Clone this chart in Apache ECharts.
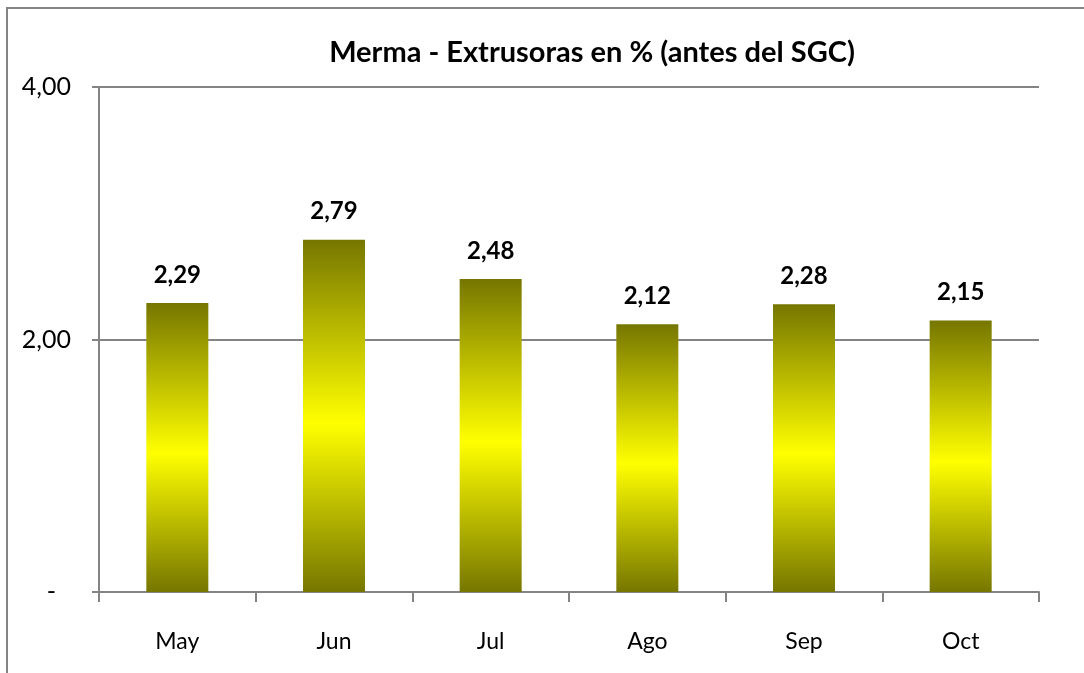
<!DOCTYPE html>
<html>
<head>
<meta charset="utf-8">
<script src="https://cdn.jsdelivr.net/npm/echarts@6/dist/echarts.min.js"></script>
<style>
html,body{margin:0;padding:0;background:#fff;}
#c{width:1084px;height:673px;}
</style>
</head>
<body>
<div id="c"></div>
<script>
const categories = ['May', 'Jun', 'Jul', 'Ago', 'Sep', 'Oct'];
const values = [2.29, 2.79, 2.48, 2.12, 2.28, 2.15];
const titleText = 'Merma - Extrusoras en % (antes del SGC)';
const yMin = 0, yMax = 4, yStep = 2;

const FONT = 'Lato, "Open Sans", sans-serif';
const fmt = v => v.toFixed(2).replace('.', ',');

const chart = echarts.init(document.getElementById('c'), null, {renderer: 'canvas'});
chart.setOption({
  animation: false,
  backgroundColor: '#ffffff',
  title: {
    text: titleText,
    left: 587, top: 33, textAlign: 'center',
    textStyle: {fontFamily: FONT, fontWeight: 'bold', fontSize: 29, color: '#000'}
  },
  graphic: [{
    type: 'rect', silent: true, z: -1,
    shape: {x: 7, y: 8, width: 1200, height: 800},
    style: {fill: 'none', stroke: '#848484', lineWidth: 2}
  }],
  grid: {left: 99, right: 45, top: 87, bottom: 81, containLabel: false},
  xAxis: {
    type: 'category',
    data: categories,
    axisLine: {show: true, lineStyle: {color: '#848484', width: 2}},
    axisTick: {show: true, alignWithLabel: false, length: 10, lineStyle: {color: '#848484', width: 2}},
    axisLabel: {fontFamily: FONT, fontSize: 23, color: '#000', margin: 38}
  },
  yAxis: {
    type: 'value',
    min: yMin, max: yMax, interval: yStep,
    axisLine: {show: true, lineStyle: {color: '#848484', width: 2}},
    axisTick: {show: true, inside: false, length: 7, lineStyle: {color: '#848484', width: 2}},
    splitLine: {show: true, lineStyle: {color: '#848484', width: 2}},
    axisLabel: {
      fontFamily: FONT, fontSize: 25, color: '#000', margin: 28,
      formatter: v => v === 0 ? '{z|-}' : fmt(v),
      rich: {z: {fontFamily: FONT, fontSize: 25, color: '#000', padding: [0, 15, 0, 0]}}
    }
  },
  series: [{
    type: 'bar',
    data: values,
    barWidth: 62,
    itemStyle: {
      color: new echarts.graphic.LinearGradient(0, 0, 0, 1, [
        {offset: 0, color: '#767600'},
        {offset: 0.52, color: '#ffff00'},
        {offset: 1, color: '#767600'}
      ])
    },
    label: {
      show: true, position: 'top', distance: 16,
      fontFamily: FONT, fontWeight: 'bold', fontSize: 24, color: '#000',
      formatter: p => fmt(p.value)
    }
  }]
});
</script>
</body>
</html>
